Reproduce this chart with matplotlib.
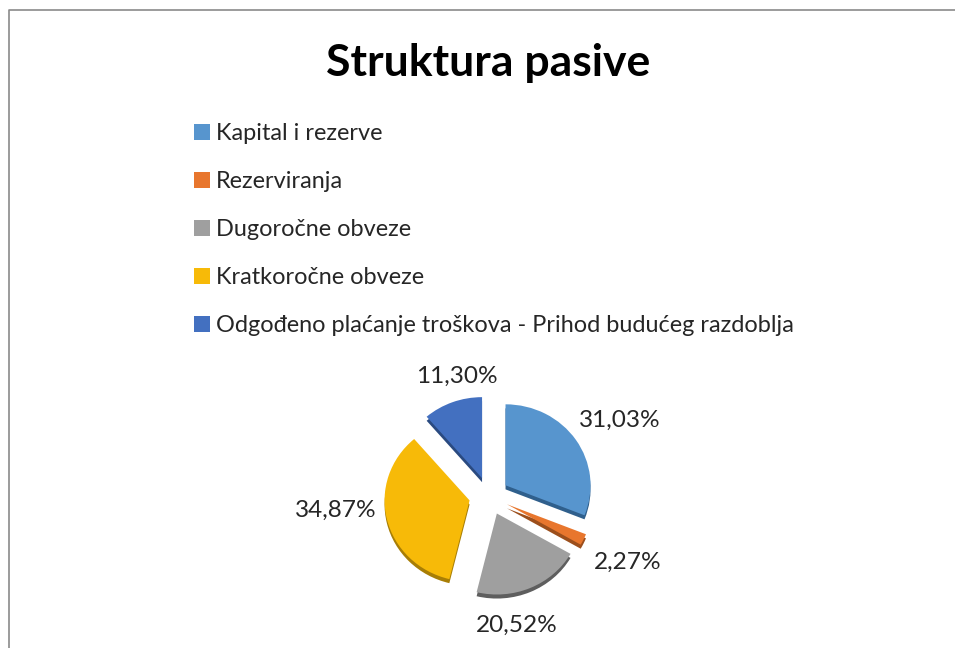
import matplotlib
matplotlib.use("Agg")
import matplotlib.pyplot as plt
from matplotlib.lines import Line2D

plt.rcParams['font.family'] = ['Lato', 'DejaVu Sans']

W = 955
H = 648

title = "Struktura pasive"
categories = ["Kapital i rezerve", "Rezerviranja", "Dugoročne obveze",
              "Kratkoročne obveze", "Odgođeno plaćanje troškova - Prihod budućeg razdoblja"]
values = [31.03, 2.27, 20.52, 34.87, 11.30]
value_labels = ["31,03%", "2,27%", "20,52%", "34,87%", "11,30%"]
colors = ["#5795CE", "#E8762D", "#9F9F9F", "#F7BA08", "#4370C0"]
side_colors = ["#2F5F8C", "#9C4F1C", "#5E5E5E", "#A87E05", "#2A4A80"]
explode = [0.235] * 5

# label positions in pixels
label_x = [620, 628, 517, 336, 457]
label_y = [420, 562, 625, 510, 376]
legend_y = [132, 180, 228, 276, 324]

fig = plt.figure(figsize=(W / 100, H / 100), dpi=100, facecolor="white")

# pie rectangle, slightly flattened like the 3D original
cx, cy = 489, 496
rx, ry = 85, 81
ax = fig.add_axes([(cx - 1.25 * rx) / W, 1 - (cy + 1.25 * ry) / H,
                   2.5 * rx / W, 2.5 * ry / H])

# darker copy underneath is the side of the slices
ax.pie(values, colors=side_colors, explode=explode, startangle=90,
       counterclock=False, center=(0, -0.05), radius=1)
wedges, _ = ax.pie(values, colors=colors, explode=explode, startangle=90,
                   counterclock=False, center=(0, 0), radius=1)
ax.set_xlim(-1.25, 1.25)
ax.set_ylim(-1.25, 1.25)
ax.set_aspect('auto')

fig.text(488 / W, 1 - 63 / H, title, fontsize=32, fontweight='bold',
         ha='center', va='center', color='black')

for i in range(len(categories)):
    fig.patches.append(plt.Rectangle((194 / W, 1 - (legend_y[i] + 8) / H), 15.5 / W, 16 / H,
                                     transform=fig.transFigure, color=colors[i], lw=0))
    fig.text(216 / W, 1 - (legend_y[i] + 1) / H, categories[i], fontsize=16.9,
             ha='left', va='center', color='#262626')

for i in range(len(values)):
    fig.text(label_x[i] / W, 1 - label_y[i] / H, value_labels[i], fontsize=17.6,
             ha='center', va='center', color='#262626')

# outer border, only top and left are visible in the crop
fig.add_artist(Line2D([9 / W, 9 / W, 1], [0, 1 - 10 / H, 1 - 10 / H],
                      transform=fig.transFigure, color='#8a8a8a', lw=1.2))

fig.savefig("out.png", dpi=100, facecolor="white")
